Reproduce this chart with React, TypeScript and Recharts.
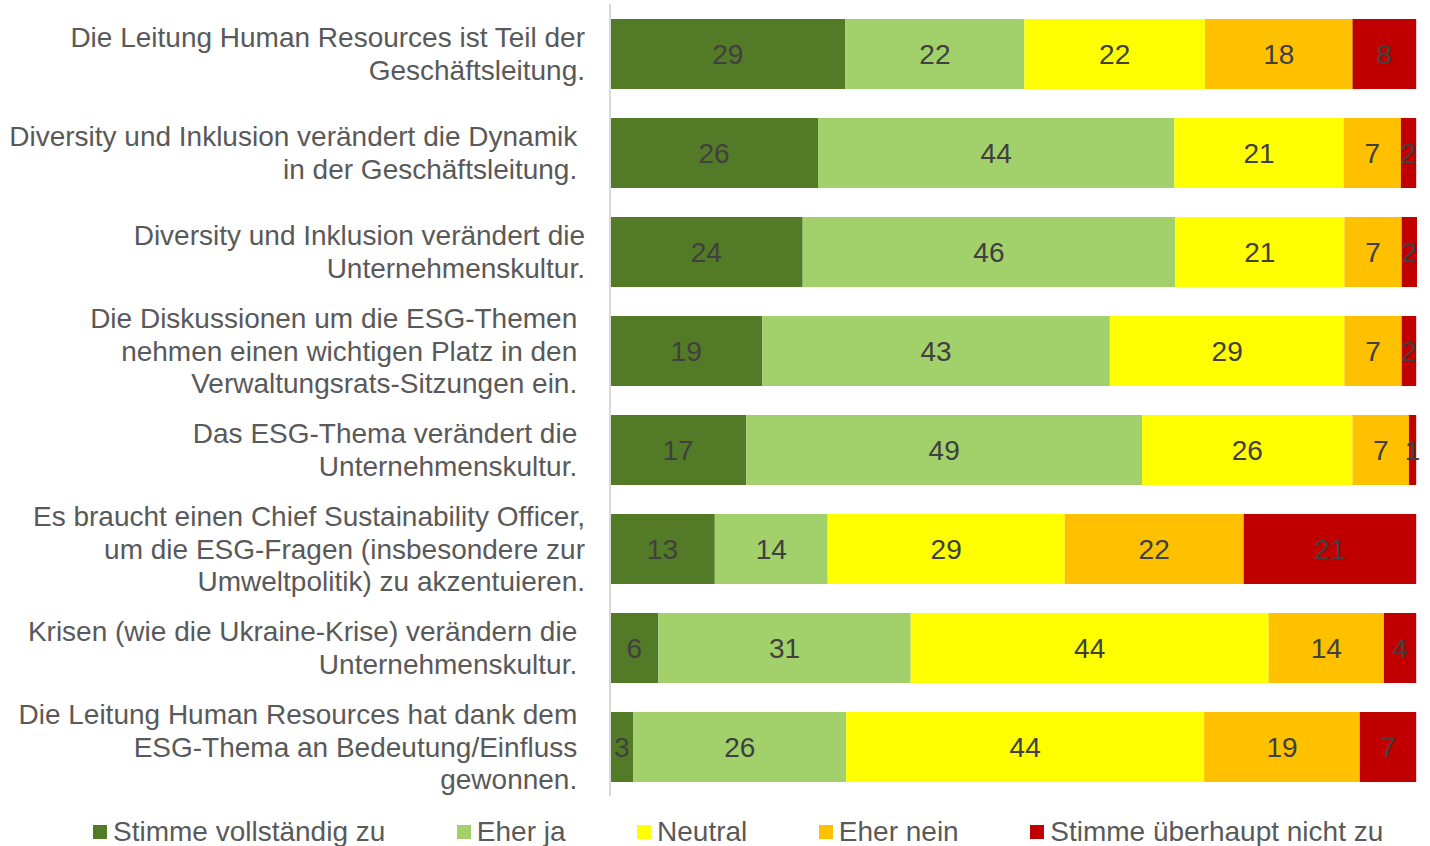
import React from 'react';
import { BarChart, Bar, XAxis, YAxis, LabelList } from 'recharts';

// category texts, line breaks as in the original (trailing space = Excel padding)
const categories = [
  'Die Leitung Human Resources ist Teil der\nGeschäftsleitung.',
  'Diversity und Inklusion verändert die Dynamik \nin der Geschäftsleitung. ',
  'Diversity und Inklusion verändert die\nUnternehmenskultur.',
  'Die Diskussionen um die ESG-Themen \nnehmen einen wichtigen Platz in den \nVerwaltungsrats-Sitzungen ein. ',
  'Das ESG-Thema verändert die \nUnternehmenskultur. ',
  'Es braucht einen Chief Sustainability Officer,\num die ESG-Fragen (insbesondere zur\nUmweltpolitik) zu akzentuieren.',
  'Krisen (wie die Ukraine-Krise) verändern die \nUnternehmenskultur. ',
  'Die Leitung Human Resources hat dank dem \nESG-Thema an Bedeutung/Einfluss \ngewonnen. ',
];

const stimmeVoll = [29.2, 25.8, 23.9, 18.9, 16.9, 13.0, 6.0, 2.9];
const eherJa = [22.2, 44.2, 46.2, 43.1, 49.1, 14.0, 31.3, 26.4];
const neutral = [22.4, 21.0, 21.0, 29.1, 26.1, 29.4, 44.4, 44.4];
const eherNein = [18.3, 7.1, 7.1, 7.1, 7.0, 22.2, 14.3, 19.3];
const stimmeNicht = [7.9, 1.9, 1.9, 1.8, 0.9, 21.4, 4.0, 7.0];

const series = [
  { key: 'voll', name: 'Stimme vollständig zu', color: '#537A26', values: stimmeVoll },
  { key: 'ja', name: 'Eher ja', color: '#A2D06A', values: eherJa },
  { key: 'neutral', name: 'Neutral', color: '#FFFF00', values: neutral },
  { key: 'nein', name: 'Eher nein', color: '#FFC000', values: eherNein },
  { key: 'nicht', name: 'Stimme überhaupt nicht zu', color: '#C00000', values: stimmeNicht },
];

const data = categories.map((cat, i) => {
  const row: { [k: string]: string | number } = { cat };
  series.forEach(s => { row[s.key] = s.values[i]; });
  return row;
});

const FONT = '"Liberation Sans", Arial, sans-serif';

const CategoryTick = (props: any) => {
  const { x, y, payload } = props;
  const lines: string[] = String(payload.value).split('\n');
  const lh = 32.5;
  return (
    <text x={x} y={y} textAnchor="end" fill="#595959" fontSize={28} fontFamily={FONT}>
      {lines.map((l, i) => (
        <tspan key={i} x={x} y={y + (i - (lines.length - 1) / 2) * lh} dy="0.36em">
          {l.replace(/ $/, '\u00a0')}
        </tspan>
      ))}
    </text>
  );
};

export default function App() {
  return (
    <div style={{ position: 'absolute', left: 0, top: 0, width: 1430, height: 846, background: '#fff', overflow: 'hidden' }}>
      <BarChart
        width={1430}
        height={846}
        data={data}
        layout="vertical"
        margin={{ top: 4, right: 13, bottom: 50, left: 0 }}
        style={{ fontFamily: FONT }}
      >
        <XAxis type="number" domain={[0, 100]} hide />
        <YAxis
          type="category"
          dataKey="cat"
          width={610}
          tickLine={false}
          tickSize={0}
          tickMargin={25}
          axisLine={{ stroke: '#D9D9D9', strokeWidth: 2 }}
          tick={<CategoryTick />}
          interval={0}
        />
        {series.map(s => (
          <Bar key={s.key} dataKey={s.key} name={s.name} stackId="a" fill={s.color} barSize={70} isAnimationActive={false}>
            <LabelList
              dataKey={s.key}
              position="center"
              fill="#404040"
              fontSize={28}
              fontFamily={FONT}
              formatter={(v: any) => Math.round(Number(v))}
            />
          </Bar>
        ))}
      </BarChart>
      <div style={{ position: 'absolute', left: 93, top: 816, display: 'flex', alignItems: 'center', fontFamily: FONT, fontSize: 28, color: '#595959', whiteSpace: 'nowrap' }}>
        {series.map(s => (
          <div key={s.key} style={{ display: 'flex', alignItems: 'center', marginRight: 71.5 }}>
            <span style={{ display: 'inline-block', width: 14, height: 14, background: s.color, marginRight: 6 }} />
            <span>{s.name}</span>
          </div>
        ))}
      </div>
    </div>
  );
}
